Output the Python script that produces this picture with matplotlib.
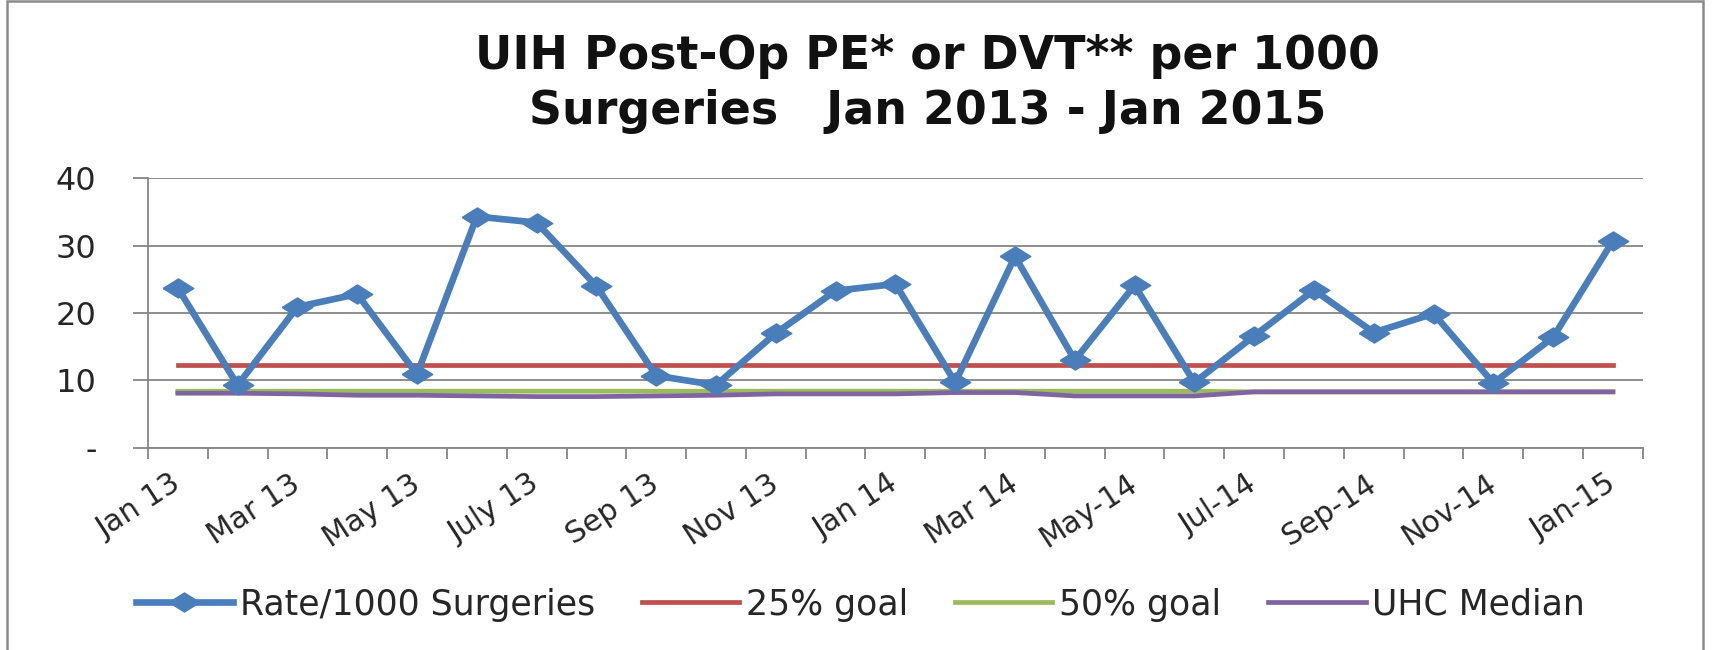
import numpy as np
import matplotlib
matplotlib.use('Agg')
import matplotlib.pyplot as plt
from matplotlib.patches import Rectangle

plt.rcParams['font.family'] = ['DejaVu Sans']

months = ['Jan 13', 'Feb 13', 'Mar 13', 'Apr 13', 'May 13', 'Jun 13', 'July 13',
          'Aug 13', 'Sep 13', 'Oct 13', 'Nov 13', 'Dec 13', 'Jan 14', 'Feb 14',
          'Mar 14', 'Apr 14', 'May-14', 'Jun-14', 'Jul-14', 'Aug-14', 'Sep-14',
          'Oct-14', 'Nov-14', 'Dec-14', 'Jan-15']
rate = [23.7, 9.3, 20.9, 22.8, 10.9, 34.3, 33.4, 24.0, 10.7, 9.3, 17.0, 23.3,
        24.3, 9.7, 28.4, 13.0, 24.1, 9.7, 16.6, 23.4, 17.1, 19.9, 9.6, 16.4, 30.7]
goal25 = [12.3] * 25
goal50 = [8.4] * 18 + [8.3] * 7
uhc_median = [8.1, 8.1, 8.0, 7.8, 7.8, 7.7, 7.6, 7.6, 7.7, 7.8, 8.0, 8.0, 8.0,
              8.2, 8.2, 7.7, 7.7, 7.7, 8.3, 8.3, 8.3, 8.3, 8.3, 8.3, 8.3]

x = np.arange(len(months))

# the source picture is stretched sideways, so the diamonds are wide
wide_diamond = [(-1.6, 0), (0, 1), (1.6, 0), (0, -1), (-1.6, 0)]

fig = plt.figure(figsize=(17.14, 6.5), dpi=100)
ax = fig.add_axes([0.0863, 0.311, 0.8722, 0.415])

ax.plot(x, goal25, color='#C0504D', lw=3.4, label='25% goal', zorder=2)
ax.plot(x, goal50, color='#9BBB59', lw=3.4, label='50% goal', zorder=2)
ax.plot(x, uhc_median, color='#8064A2', lw=3.4, label='UHC Median', zorder=3)
ax.plot(x, rate, color='#4A7EBB', lw=4.8, marker=wide_diamond, markersize=22,
        label='Rate/1000 Surgeries', zorder=4)

ax.set_xlim(-0.5, len(months) - 0.5)
ax.set_ylim(0, 40)
ax.set_yticks([0, 10, 20, 30, 40])
ax.set_yticklabels(['-', '10', '20', '30', '40'])
ax.yaxis.grid(True, color='#868686', lw=1.3)
ax.set_axisbelow(True)

ax.set_xticks(x[::2])
ax.set_xticklabels(months[::2], rotation=33, ha='right', va='center',
                   rotation_mode='anchor')
ax.set_xticks(np.arange(-0.5, len(months)), minor=True)
ax.tick_params(axis='x', which='major', length=0, pad=24, labelsize=21.5,
               colors='#262626')
ax.tick_params(axis='x', which='minor', length=8, width=1.3, color='#868686')
ax.tick_params(axis='y', length=11, width=1.3, color='#868686', labelsize=23,
               labelcolor='#262626', pad=26)

for s in ['top', 'right']:
    ax.spines[s].set_visible(False)
for s in ['left', 'bottom']:
    ax.spines[s].set_color('#868686')
    ax.spines[s].set_linewidth(1.3)

fig.suptitle('UIH Post-Op PE* or DVT** per 1000\nSurgeries   Jan 2013 - Jan 2015',
             x=0.541, y=0.948, va='top', fontsize=33, fontweight='bold',
             color='#111111', linespacing=1.3)

h, l = ax.get_legend_handles_labels()
order = [3, 0, 1, 2]
fig.legend([h[i] for i in order], [l[i] for i in order], loc='center',
           bbox_to_anchor=(0.502, 0.07), ncol=4, frameon=False, fontsize=25,
           handlelength=2.8, handletextpad=0.2, columnspacing=1.35,
           labelcolor='#262626')

fig.patches.append(Rectangle((7 / 1714, -0.02), 1696 / 1714, 1.02 - 1 / 650,
                             transform=fig.transFigure, fill=False,
                             edgecolor='#8A8A8A', lw=1.8))

fig.savefig('out.png', dpi=100)
